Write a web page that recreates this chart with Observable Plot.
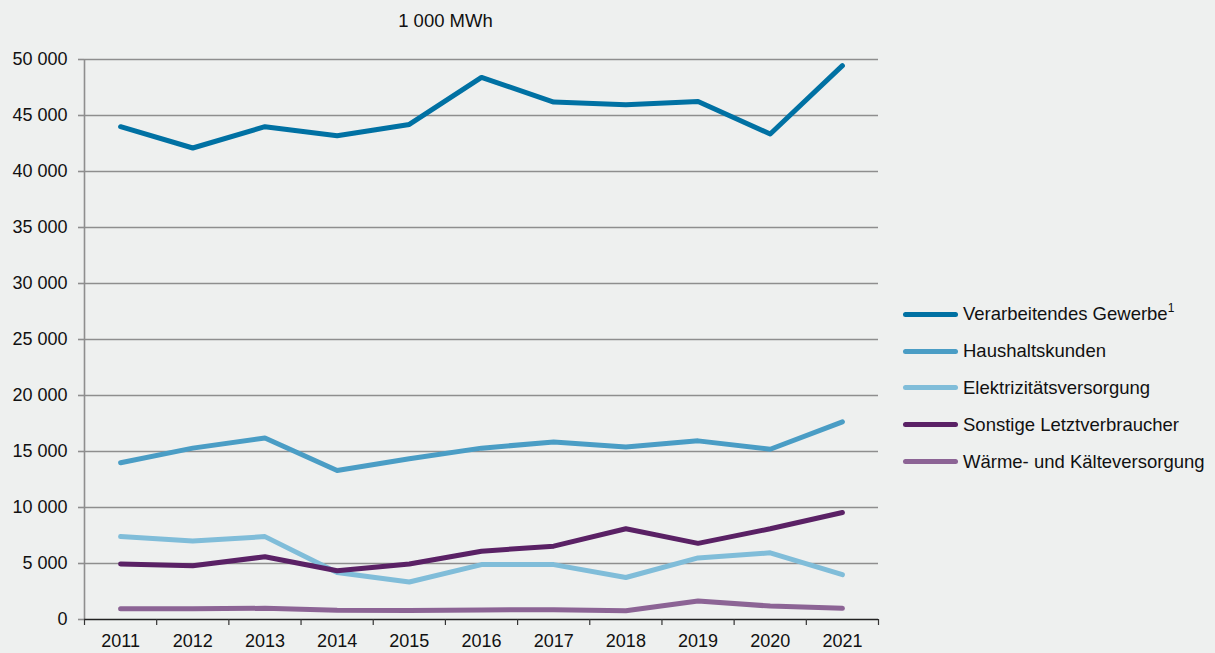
<!DOCTYPE html>
<html>
<head>
<meta charset="utf-8">
<script src="https://cdn.jsdelivr.net/npm/d3@7"></script>
<script src="https://cdn.jsdelivr.net/npm/@observablehq/plot@0.6"></script>
<style>
  html, body { margin: 0; padding: 0; background: #eef0ef; }
  body { width: 1215px; height: 653px; position: relative; overflow: hidden; font-family: "Liberation Sans", Arial, sans-serif; }
  #title { position: absolute; left: 0; width: 891px; top: 10px; text-align: center; font-size: 18.5px; color: #111; }
  #legend { position: absolute; left: 903px; top: 296px; font-size: 18.5px; color: #111; }
  .item { height: 36.8px; display: flex; align-items: center; white-space: nowrap; }
  .sw { width: 55px; height: 5px; border-radius: 3px; margin-right: 5px; }
  sup { font-size: 12px; vertical-align: 8px; line-height: 0; }
</style>
</head>
<body>
<div id="title">1 000 MWh</div>
<div id="chart"></div>
<div id="legend"></div>
<script>
const years = [2011, 2012, 2013, 2014, 2015, 2016, 2017, 2018, 2019, 2020, 2021];
const seriesNames = ["Verarbeitendes Gewerbe", "Haushaltskunden", "Elektrizitätsversorgung", "Sonstige Letztverbraucher", "Wärme- und Kälteversorgung"];
const colors = ["#0071a3", "#4a9dc5", "#80bdd9", "#5a2165", "#8c6495"];
const verarbeitendes = [44000, 42100, 44000, 43200, 44200, 48400, 46200, 45950, 46250, 43350, 49450];
const haushalte = [14000, 15300, 16200, 13300, 14350, 15300, 15850, 15400, 15950, 15200, 17650];
const elektrizitaet = [7400, 7000, 7400, 4200, 3350, 4900, 4900, 3750, 5500, 5950, 4000];
const sonstige = [4950, 4800, 5600, 4350, 4950, 6100, 6550, 8100, 6800, 8100, 9550];
const waerme = [950, 950, 1000, 820, 800, 850, 880, 780, 1650, 1200, 1000];
const yTicks = [0, 5000, 10000, 15000, 20000, 25000, 30000, 35000, 40000, 45000, 50000];

const seriesValues = [verarbeitendes, haushalte, elektrizitaet, sonstige, waerme];
const data = [];
seriesNames.forEach((s, i) => years.forEach((y, j) => data.push({series: s, year: y, value: seriesValues[i][j]})));

const fmt = d => d3.format(",")(d).replace(/,/g, " ");
const bandEdges = d3.range(0, 12).map(i => 2010.5 + i);

const chart = Plot.plot({
  width: 1215,
  height: 653,
  marginLeft: 84,
  marginRight: 337,
  marginTop: 59,
  marginBottom: 34,
  style: {background: "transparent", fontFamily: "Liberation Sans, Arial, sans-serif", fontSize: "18px", color: "#111"},
  x: {domain: [2010.5, 2021.5], axis: null, label: null},
  y: {domain: [0, 50000], axis: null, label: null},
  color: {domain: seriesNames, range: colors},
  marks: [
    Plot.ruleY(yTicks.filter(d => d > 0), {stroke: "#8e8e8e", strokeWidth: 1.6}),
    Plot.ruleX([2010.5], {y1: 0, y2: 50000, stroke: "#8e8e8e", strokeWidth: 1.6}),
    Plot.axisY({ticks: yTicks, tickFormat: fmt, tickSize: 6, tickPadding: 11, stroke: "#8e8e8e", strokeWidth: 1.6, fontSize: 18, label: null}),
    Plot.ruleY([0], {stroke: "#222", strokeWidth: 1.4}),
    Plot.axisX({ticks: bandEdges, tickFormat: () => "", tickSize: 6, stroke: "#333", strokeWidth: 1.2, label: null}),
    Plot.axisX({ticks: years, tickFormat: d => String(d), tickSize: 0, tickPadding: 15, fontSize: 18, label: null}),
    Plot.line(data, {x: "year", y: "value", z: "series", stroke: "series", strokeWidth: 5, strokeLinecap: "round", strokeLinejoin: "round"})
  ]
});
document.getElementById("chart").appendChild(chart);

const legend = document.getElementById("legend");
seriesNames.forEach((s, i) => {
  const item = document.createElement("div");
  item.className = "item";
  const sw = document.createElement("div");
  sw.className = "sw";
  sw.style.background = colors[i];
  const label = document.createElement("span");
  label.textContent = s;
  if (i === 0) { const sup = document.createElement("sup"); sup.textContent = "1"; label.appendChild(sup); }
  item.appendChild(sw);
  item.appendChild(label);
  legend.appendChild(item);
});
</script>
</body>
</html>
